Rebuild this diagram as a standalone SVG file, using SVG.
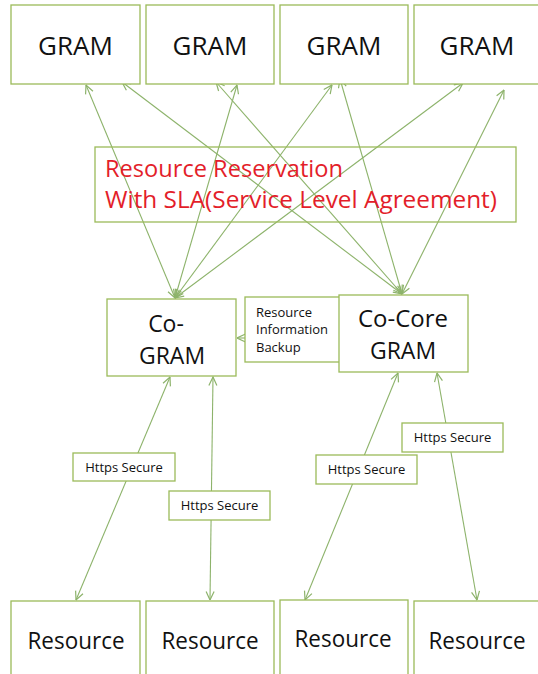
<svg xmlns="http://www.w3.org/2000/svg" width="538" height="674" viewBox="0 0 538 674">
<defs>
<marker id="ah" viewBox="0 0 10 10" refX="9.5" refY="5" markerWidth="10" markerHeight="10" markerUnits="userSpaceOnUse" orient="auto-start-reverse">
<path d="M1,1 L9.5,5 L1,9" fill="none" stroke="#8db36b" stroke-width="1.2"/>
</marker>
<style>
.box{fill:#fff;stroke:#9bbb59;stroke-width:1.3}
.nofill{fill:none;stroke:#9bbb59;stroke-width:1.3}
.t{font-family:"Open Sans","Noto Sans","Liberation Sans",sans-serif;fill:#111;text-anchor:middle}
.big{font-size:26px}
.mid{font-size:23px}
.res{font-size:24px}
.sm{font-size:13px}
.red{font-family:"Open Sans","Noto Sans","Liberation Sans",sans-serif;font-size:23px;fill:#e31e2a}
.c{fill:none;stroke:#8db36b;stroke-width:1.1;marker-start:url(#ah);marker-end:url(#ah)}
.c1{fill:none;stroke:#8db36b;stroke-width:1.1;marker-end:url(#ah)}
</style>
</defs>
<g id="connectors">
<line class="c" x1="175" y1="298" x2="86" y2="85"/>
<line class="c" x1="175" y1="298" x2="237" y2="85"/>
<line class="c" x1="175" y1="298" x2="332" y2="85"/>
<line class="c" x1="175" y1="298" x2="463" y2="83"/>
<line class="c" x1="402" y1="294" x2="122" y2="82"/>
<line class="c" x1="402" y1="294" x2="216" y2="82"/>
<line class="c" x1="402" y1="294" x2="340" y2="79"/>
<line class="c" x1="402" y1="294" x2="504" y2="90"/>
<line class="c" x1="170" y1="377" x2="76" y2="600"/>
<line class="c" x1="213" y1="377" x2="210" y2="600"/>
<line class="c" x1="398" y1="373" x2="305" y2="600"/>
<line class="c" x1="437" y1="373" x2="477" y2="600"/>
<line class="c1" x1="246" y1="338" x2="237" y2="338"/>
</g>
<g id="gram1"><rect class="box" x="11" y="5" width="129" height="79"/><text class="t big" x="75.5" y="55">GRAM</text></g>
<g id="gram2"><rect class="box" x="146" y="5" width="128" height="79"/><text class="t big" x="210" y="55">GRAM</text></g>
<g id="gram3"><rect class="box" x="280" y="5" width="128" height="79"/><text class="t big" x="344" y="55">GRAM</text></g>
<g id="gram4"><rect class="box" x="414" y="5" width="130" height="79"/><text class="t big" x="477" y="55">GRAM</text></g>
<g id="sla"><rect class="nofill" x="95" y="147" width="421" height="75"/>
<text class="red" x="105" y="177" textLength="238" lengthAdjust="spacingAndGlyphs">Resource Reservation</text>
<text class="red" x="105" y="208" textLength="392" lengthAdjust="spacingAndGlyphs">With SLA(Service Level Agreement)</text></g>
<g id="cogram"><rect class="box" x="107" y="299" width="129" height="77"/><text class="t mid" x="166" y="332">Co-</text><text class="t mid" x="172" y="363.5">GRAM</text></g>
<g id="backup"><rect class="box" x="245" y="297" width="100" height="65"/>
<text class="t sm" x="256" y="317" style="text-anchor:start">Resource</text>
<text class="t sm" x="256" y="334" style="text-anchor:start">Information</text>
<text class="t sm" x="256" y="352" style="text-anchor:start">Backup</text></g>
<g id="cocore"><rect class="box" x="339" y="295" width="129" height="77"/><text class="t mid" x="403" y="327" textLength="90" lengthAdjust="spacingAndGlyphs">Co-Core</text><text class="t mid" x="403" y="358.5">GRAM</text></g>
<g id="https1"><rect class="box" x="73" y="453" width="102" height="28"/><text class="t sm" x="124" y="472">Https Secure</text></g>
<g id="https2"><rect class="box" x="169" y="491" width="101" height="29"/><text class="t sm" x="219.5" y="510">Https Secure</text></g>
<g id="https3"><rect class="box" x="316" y="455" width="101" height="29"/><text class="t sm" x="366.5" y="474">Https Secure</text></g>
<g id="https4"><rect class="box" x="402" y="423" width="101" height="29"/><text class="t sm" x="452.5" y="442">Https Secure</text></g>
<g id="res1"><rect class="box" x="11" y="601" width="129" height="80"/><text class="t res" x="76" y="649" textLength="97" lengthAdjust="spacingAndGlyphs">Resource</text></g>
<g id="res2"><rect class="box" x="146" y="601" width="128" height="80"/><text class="t res" x="210" y="649" textLength="97" lengthAdjust="spacingAndGlyphs">Resource</text></g>
<g id="res3"><rect class="box" x="280" y="600" width="128" height="80"/><text class="t res" x="343" y="647" textLength="97" lengthAdjust="spacingAndGlyphs">Resource</text></g>
<g id="res4"><rect class="box" x="414" y="601" width="130" height="80"/><text class="t res" x="477" y="649" textLength="97" lengthAdjust="spacingAndGlyphs">Resource</text></g>
</svg>
